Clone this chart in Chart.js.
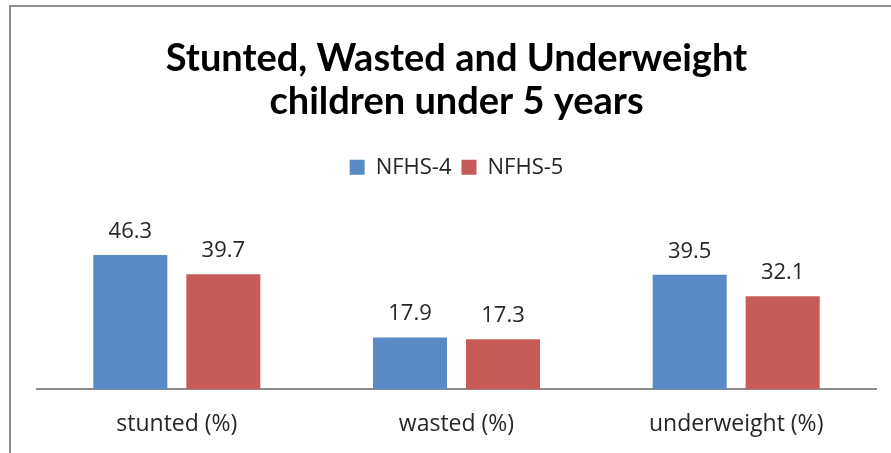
<!DOCTYPE html>
<html>
<head>
<meta charset="utf-8">
<script src="https://cdn.jsdelivr.net/npm/chart.js@4.4.1/dist/chart.umd.min.js"></script>
<style>
  html, body { margin: 0; padding: 0; background: #fff; }
  #wrap { position: relative; width: 891px; height: 453px; overflow: hidden; }
  #frame { position: absolute; left: 9px; top: 5px; width: 900px; height: 460px;
           border-left: 2px solid #8e8e8e; border-top: 2px solid #8e8e8e; pointer-events: none; }
  canvas { position: absolute; left: 0; top: 0; }
</style>
</head>
<body>
<div id="wrap">
  <canvas id="chart" width="891" height="453"></canvas>
  <div id="frame"></div>
</div>
<script>
// survey indicators, NFHS-4 vs NFHS-5
const categories = ['stunted (%)', 'wasted (%)', 'underweight (%)'];
const nfhs4 = [46.3, 17.9, 39.5];
const nfhs5 = [39.7, 17.3, 32.1];
const seriesNames = ['NFHS-4', 'NFHS-5'];

const FONT = "'Open Sans', 'DejaVu Sans', sans-serif";

// writes the value above each bar
const valueLabels = {
  id: 'valueLabels',
  afterDatasetsDraw(chart) {
    const ctx = chart.ctx;
    ctx.save();
    ctx.font = '22px ' + FONT;
    ctx.fillStyle = '#262626';
    ctx.textAlign = 'center';
    ctx.textBaseline = 'alphabetic';
    chart.data.datasets.forEach((ds, i) => {
      chart.getDatasetMeta(i).data.forEach((bar, j) => {
        ctx.fillText(ds.data[j].toFixed(1), bar.x, bar.y - 17);
      });
    });
    ctx.restore();
  }
};

// extra room under the legend, like the original
const legendGap = {
  id: 'legendGap',
  beforeInit(chart) {
    const fit = chart.legend.fit;
    chart.legend.fit = function () {
      fit.bind(chart.legend)();
      this.height += 56;
    };
  }
};

new Chart(document.getElementById('chart'), {
  type: 'bar',
  data: {
    labels: categories,
    datasets: [
      { label: seriesNames[0], data: nfhs4, backgroundColor: '#5a8ac6', borderWidth: 0 },
      { label: seriesNames[1], data: nfhs5, backgroundColor: '#c65b58', borderWidth: 0 }
    ]
  },
  options: {
    responsive: false,
    animation: false,
    categoryPercentage: 0.665,
    barPercentage: 0.796,
    layout: { padding: { left: 37, right: 15, top: 37, bottom: 2 } },
    scales: {
      y: { display: false, min: 0, max: 50 },
      x: {
        grid: { display: false },
        border: { display: true, color: '#8c8c8c', width: 2 },
        ticks: { color: '#262626', font: { family: FONT, size: 23 }, padding: 13 }
      }
    },
    plugins: {
      title: {
        display: true,
        text: ['Stunted, Wasted and Underweight', 'children under 5 years'],
        color: '#000',
        font: { family: "Lato, 'DejaVu Sans', sans-serif", size: 38, weight: 'bold', lineHeight: 1.135 },
        padding: { top: 0, bottom: 23 }
      },
      legend: {
        position: 'top',
        labels: {
          color: '#262626',
          font: { family: FONT, size: 22 },
          boxWidth: 15,
          boxHeight: 15,
          padding: 10
        }
      },
      tooltip: { enabled: false }
    }
  },
  plugins: [valueLabels, legendGap]
});
</script>
</body>
</html>
